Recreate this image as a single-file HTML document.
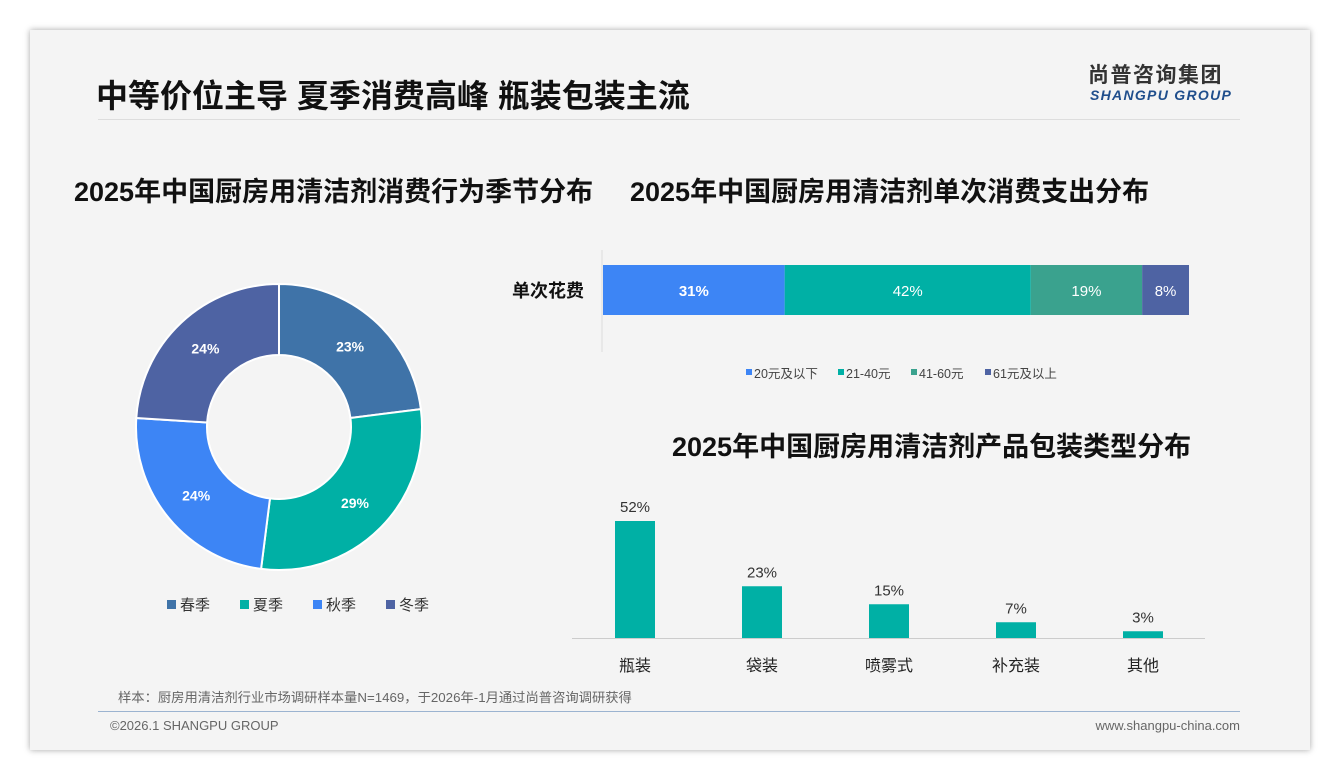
<!DOCTYPE html>
<html><head><meta charset="utf-8"><style>
body{margin:0;width:1340px;height:780px;background:#fff;font-family:"Liberation Sans","Noto Sans CJK SC",sans-serif;position:relative;overflow:hidden}
.card{position:absolute;left:30px;top:30px;width:1280px;height:720px;background:#f4f4f4;box-shadow:0 0 6px rgba(0,0,0,.35)}
.abs{position:absolute;white-space:nowrap;line-height:1}
</style></head><body>
<div class="card"></div>
<div class="abs" style="left:96px;top:80px;font-size:32px;font-weight:bold;color:#111">中等价位主导 夏季消费高峰 瓶装包装主流</div>
<div class="abs" style="left:98px;top:119px;width:1142px;height:1px;background:#ddd"></div>
<div class="abs" style="left:1088px;top:65px;font-size:21px;font-weight:bold;color:#333;letter-spacing:1.5px">尚普咨询集团</div>
<div class="abs" style="left:1090px;top:88px;font-size:14px;font-weight:bold;font-style:italic;color:#1f4e8c;letter-spacing:1.3px">SHANGPU GROUP</div>
<div class="abs" style="left:74px;top:179px;font-size:27px;font-weight:bold;color:#111">2025年中国厨房用清洁剂消费行为季节分布</div>
<div class="abs" style="left:630px;top:179px;font-size:27px;font-weight:bold;color:#111">2025年中国厨房用清洁剂单次消费支出分布</div>
<div class="abs" style="left:672px;top:434px;font-size:27px;font-weight:bold;color:#111">2025年中国厨房用清洁剂产品包装类型分布</div>
<div class="abs" style="left:118px;top:691px;font-size:13.3px;color:#666">样本：厨房用清洁剂行业市场调研样本量N=1469，于2026年-1月通过尚普咨询调研获得</div>
<div class="abs" style="left:98px;top:711px;width:1142px;height:1px;background:#9bb3d0"></div>
<div class="abs" style="left:110px;top:719px;font-size:13px;color:#666">©2026.1 SHANGPU GROUP</div>
<div class="abs" style="right:100px;top:719px;font-size:13px;color:#666">www.shangpu-china.com</div>
<svg class="abs" style="left:0;top:0" width="1340" height="780">
<g id="donut"></g><g id="hbar"></g><g id="cols"></g>
</svg>
<script>
const seasons=["春季","夏季","秋季","冬季"];
const seasonVals=[23,29,24,24];
const seasonColors=["#3f73a8","#00b0a5","#3d85f5","#4e63a3"];
const spendCats=["20元及以下","21-40元","41-60元","61元及以上"];
const spendVals=[31,42,19,8];
const spendColors=["#3d85f5","#00b0a5","#3aa28e","#4e63a3"];
const packCats=["瓶装","袋装","喷雾式","补充装","其他"];
const packVals=[52,23,15,7,3];
const NS="http://www.w3.org/2000/svg";
function mk(p,t,a){const e=document.createElementNS(NS,t);for(const k in a)e.setAttribute(k,a[k]);p.appendChild(e);return e;}
const dg=document.getElementById('donut');
const cx=279,cy=427,R=143,r=72;
let tot=seasonVals.reduce((a,b)=>a+b,0),acc=0;
seasonVals.forEach((v,i)=>{
 const a0=acc/tot*2*Math.PI-Math.PI/2;acc+=v;const a1=acc/tot*2*Math.PI-Math.PI/2;
 const lg=(a1-a0)>Math.PI?1:0;
 const P=(rr,a)=>[cx+rr*Math.cos(a),cy+rr*Math.sin(a)];
 const [x0,y0]=P(R,a0),[x1,y1]=P(R,a1),[x2,y2]=P(r,a1),[x3,y3]=P(r,a0);
 const s=mk(dg,'path',{d:`M${x0} ${y0}A${R} ${R} 0 ${lg} 1 ${x1} ${y1}L${x2} ${y2}A${r} ${r} 0 ${lg} 0 ${x3} ${y3}Z`,fill:seasonColors[i],stroke:'#fff','stroke-width':2});
 
 
 const am=(a0+a1)/2,[lx,ly]=P((R+r)/2,am);
 const t=mk(dg,'text',{x:lx,y:ly+5,'text-anchor':'middle','font-size':14,'font-weight':'bold',fill:'#fff'});t.textContent=v+'%';
 
 
 const lx0=167+i*73;
 const sq=mk(dg,'rect',{x:lx0,y:600,width:9,height:9,fill:seasonColors[i]});
 
 
 const lt=mk(dg,'text',{x:lx0+13,y:610,'font-size':15,fill:'#333'});lt.textContent=seasons[i];
 
 
});
const hg=document.getElementById('hbar');
const bx0=603,bx1=1189,by=265,bh=50;
mk(hg,'line',{x1:602,y1:250,x2:602,y2:352,stroke:'#ddd'});
const yl=mk(hg,'text',{x:584,y:297,'text-anchor':'end','font-size':18,'font-weight':'bold',fill:'#111'});yl.textContent='单次花费';


const stot=spendVals.reduce((a,b)=>a+b,0);let sacc=0;
spendVals.forEach((v,i)=>{
 const x=bx0+sacc/stot*(bx1-bx0);sacc+=v;const w=v/stot*(bx1-bx0);
 const rc=mk(hg,'rect',{x:x,y:by,width:w,height:bh,fill:spendColors[i]});
 
 
 const t=mk(hg,'text',{x:x+w/2,y:by+31,'text-anchor':'middle','font-size':15,fill:'#fff','font-weight':i==0?'bold':'normal'});t.textContent=v+'%';
 
 
});
const legX=[746,838,911,985];
spendCats.forEach((c,i)=>{
 const sq=mk(hg,'rect',{x:legX[i],y:369,width:6,height:6,fill:spendColors[i]});
 
 
 const t=mk(hg,'text',{x:legX[i]+8,y:378,'font-size':12.5,fill:'#444'});t.textContent=c;
 
 
});
const cg=document.getElementById('cols');
const base=638,scale=2.25,step=127,c0=635,cw=40;
mk(cg,'line',{x1:572,y1:base+0.5,x2:1205,y2:base+0.5,stroke:'#ccc'});
packVals.forEach((v,i)=>{
 const xc=c0+i*step,h=v*scale;
 const rc=mk(cg,'rect',{x:xc-cw/2,y:base-h,width:cw,height:h,fill:'#00b0a5'});
 
 
 const t=mk(cg,'text',{x:xc,y:base-h-9,'text-anchor':'middle','font-size':15,fill:'#333'});t.textContent=v+'%';
 
 
 const c=mk(cg,'text',{x:xc,y:671,'text-anchor':'middle','font-size':16,fill:'#222'});c.textContent=packCats[i];
 
 
});
</script>
</body></html>
